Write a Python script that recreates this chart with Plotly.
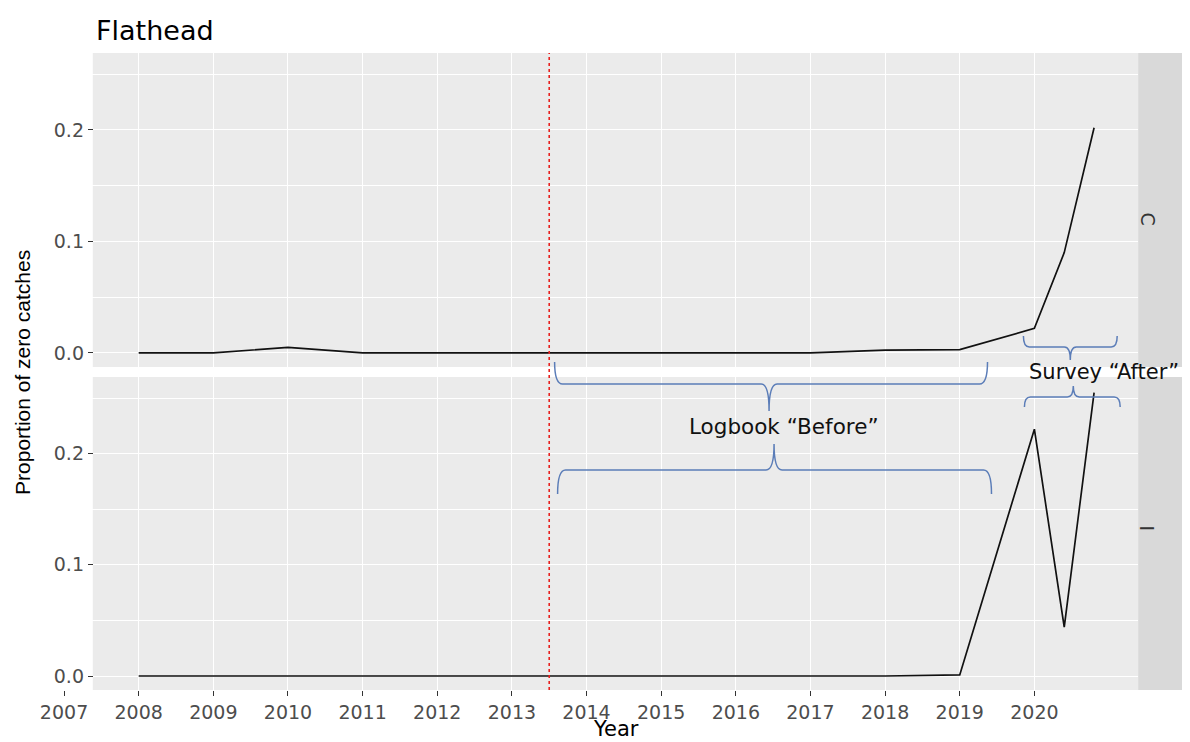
import plotly.graph_objects as go

# ---------------- data ----------------
years = [2008, 2009, 2010, 2011, 2012, 2013, 2014, 2015, 2016, 2017, 2018, 2019, 2020, 2020.4, 2020.8]
prop_C = [0, 0, 0.005, 0, 0, 0, 0, 0, 0, 0, 0.0025, 0.003, 0.022, 0.09, 0.202]
prop_I = [0, 0, 0, 0, 0, 0, 0, 0, 0, 0, 0, 0.001, 0.222, 0.044, 0.255]
facet_labels = ["C", "I"]
tick_years = list(range(2007, 2021))
y_ticks = [0.0, 0.1, 0.2]
cutoff_year = 2013.5
title_text = "Flathead"
y_title = "Proportion of zero catches"
x_title = "Year"
before_text = "Logbook \u201cBefore\u201d"
after_text = "Survey \u201cAfter\u201d"

# ---------------- layout geometry (pixels) ----------------
W, H = 1190, 742
PANEL_L, PANEL_R = 90, 1138
AXIS_L = 40
STRIP_R = 1182
TOP_PANEL = (53, 367)
BOT_PANEL = (377, 690)
X_PANEL_RANGE = (2007.385, 2021.39)
Y_RANGE = [-0.0126, 0.269]

px_per_year = (PANEL_R - PANEL_L) / (X_PANEL_RANGE[1] - X_PANEL_RANGE[0])
x_range = [X_PANEL_RANGE[0] - (PANEL_L - AXIS_L) / px_per_year, X_PANEL_RANGE[1]]


def px(x):
    return x / W


def py(y):
    return 1 - y / H


x_domain = [px(AXIS_L), px(PANEL_R)]
top_domain = [py(TOP_PANEL[1]), py(TOP_PANEL[0])]
bot_domain = [py(BOT_PANEL[1]), py(BOT_PANEL[0])]

BG = "#EBEBEB"
STRIP = "#D9D9D9"
TICKCOL = "#4D4D4D"
BRACE = "#5B7DB8"

fig = go.Figure()
fig.add_trace(go.Scatter(x=years, y=prop_C, mode="lines", line=dict(color="#111111", width=1.7),
                         xaxis="x", yaxis="y", showlegend=False, name=facet_labels[0]))
fig.add_trace(go.Scatter(x=years, y=prop_I, mode="lines", line=dict(color="#111111", width=1.7),
                         xaxis="x2", yaxis="y2", showlegend=False, name=facet_labels[1]))

shapes = []
for (t, b) in (TOP_PANEL, BOT_PANEL):
    shapes.append(dict(type="rect", xref="paper", yref="paper", x0=px(PANEL_L), x1=px(PANEL_R),
                       y0=py(b), y1=py(t), fillcolor=BG, line=dict(width=0), layer="below"))
    shapes.append(dict(type="rect", xref="paper", yref="paper", x0=px(PANEL_R), x1=px(STRIP_R),
                       y0=py(b), y1=py(t), fillcolor=STRIP, line=dict(width=0), layer="below"))

# red dotted cut-off line across both panels
shapes.append(dict(type="line", xref="x2", yref="paper", x0=cutoff_year, x1=cutoff_year,
                   y0=py(BOT_PANEL[1]), y1=py(TOP_PANEL[0]),
                   line=dict(color="#E8201E", width=1.6, dash="dot"), layer="above"))


def brace(x0, x1, xm, yl, ye, yt, r=8):
    pts = [
        f"M {px(x0)},{py(ye)}",
        f"Q {px(x0)},{py(yl)} {px(x0 + r)},{py(yl)}",
        f"L {px(xm - r)},{py(yl)}",
        f"Q {px(xm)},{py(yl)} {px(xm)},{py(yt)}",
        f"Q {px(xm)},{py(yl)} {px(xm + r)},{py(yl)}",
        f"L {px(x1 - r)},{py(yl)}",
        f"Q {px(x1)},{py(yl)} {px(x1)},{py(ye)}",
    ]
    return dict(type="path", xref="paper", yref="paper", path=" ".join(pts),
                line=dict(color=BRACE, width=1.5), layer="above")


shapes.append(brace(553, 987, 768, 384, 362, 411))
shapes.append(brace(556, 991, 773, 470, 494, 444))
shapes.append(brace(1023, 1117, 1070, 347, 336, 360, r=6))
shapes.append(brace(1024, 1120, 1073, 397, 407, 386, r=6))

annotations = [
    dict(text=before_text, xref="paper", yref="paper", x=px(783), y=py(426), showarrow=False,
         xanchor="center", yanchor="middle", font=dict(family="DejaVu Sans", size=21.5, color="#111")),
    dict(text=after_text, xref="paper", yref="paper", x=px(1104), y=py(372), showarrow=False,
         xanchor="center", yanchor="middle", font=dict(family="DejaVu Sans", size=21, color="#111")),
    dict(text=facet_labels[0], xref="paper", yref="paper", x=px(1160), y=py(sum(TOP_PANEL) / 2),
         showarrow=False, textangle=90, font=dict(family="DejaVu Sans", size=19, color="#333")),
    dict(text=facet_labels[1], xref="paper", yref="paper", x=px(1160), y=py(sum(BOT_PANEL) / 2),
         showarrow=False, textangle=90, font=dict(family="DejaVu Sans", size=19, color="#333")),
    dict(text=y_title, xref="paper", yref="paper", x=px(19), y=py(372), showarrow=False,
         textangle=-90, xanchor="center", yanchor="middle",
         font=dict(family="Liberation Sans", size=21, color="#000")),
    dict(text=x_title, xref="paper", yref="paper", x=px(615), y=py(729), showarrow=False,
         xanchor="center", yanchor="middle", font=dict(family="DejaVu Sans", size=21, color="#000")),
    dict(text=title_text, xref="paper", yref="paper", x=px(91), y=py(30), showarrow=False,
         xanchor="left", yanchor="middle", font=dict(family="DejaVu Sans", size=27, color="#000")),
]

common_x = dict(range=x_range, domain=x_domain, tickmode="array", tickvals=tick_years,
                showgrid=True, gridcolor="white", gridwidth=1.4, zeroline=False, showline=False)
common_y = dict(range=Y_RANGE, tickmode="array", tickvals=y_ticks, ticktext=[f"{v:.1f}" for v in y_ticks],
                showgrid=True, gridcolor="white", gridwidth=1.4, zeroline=False, showline=False,
                anchor="free", position=px(PANEL_L), ticks="outside", ticklen=5, tickwidth=1.2,
                tickcolor="#333", tickfont=dict(family="DejaVu Sans", size=19, color=TICKCOL),
                minor=dict(tickmode="array", tickvals=[0.05, 0.15, 0.25], showgrid=True,
                           gridcolor="white", gridwidth=0.8))

fig.update_layout(
    width=W, height=H,
    margin=dict(l=0, r=0, t=0, b=0),
    paper_bgcolor="white", plot_bgcolor="rgba(0,0,0,0)",
    xaxis=dict(**common_x, anchor="y", showticklabels=False, ticks="", matches="x2"),
    xaxis2=dict(**common_x, anchor="y2", ticks="outside", ticklen=5, tickwidth=1.2, tickcolor="#333",
                tickfont=dict(family="DejaVu Sans", size=19, color=TICKCOL)),
    yaxis=dict(**common_y, domain=top_domain),
    yaxis2=dict(**common_y, domain=bot_domain),
    shapes=shapes,
    annotations=annotations,
    showlegend=False,
)

fig.write_html(
    "out.html",
    config={"displayModeBar": False},
    post_script="document.body.style.margin='0';document.body.style.overflow='hidden';",
)
